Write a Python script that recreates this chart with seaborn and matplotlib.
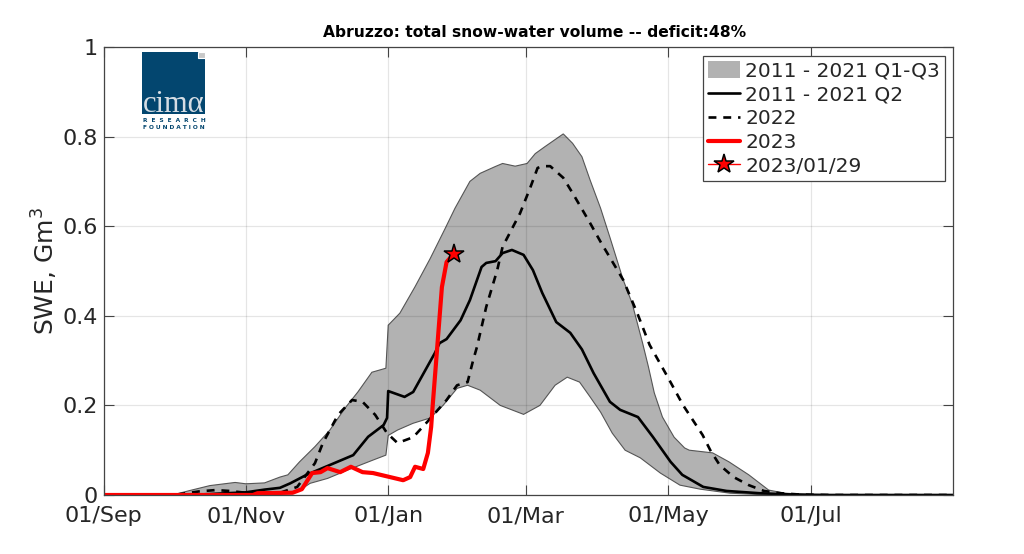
import matplotlib
matplotlib.use("Agg")
import matplotlib.pyplot as plt
from matplotlib.patches import Patch, Rectangle
from matplotlib.lines import Line2D
import seaborn as sns

# days since 01/Sep, SWE in Gm3
q3_days = [0, 30, 31, 37, 45.6, 56.4, 61, 69, 75.6, 79, 84, 90.6, 97, 103.5, 109, 115, 121, 122, 127, 133.5,
           140, 146.4, 150.6, 157, 161.4, 167.8, 171, 176.4, 181.5, 185, 189, 197, 201, 205, 208.5, 213, 217,
           222.7, 226.5, 231, 233.5, 236, 239.5, 244.5, 249, 251, 261, 268, 276.5, 285, 292, 303, 311.5, 364]
q3_vals = [0, 0, 0.002, 0.01, 0.021, 0.028, 0.025, 0.027, 0.04, 0.045, 0.074, 0.108, 0.145, 0.194, 0.23, 0.274,
           0.283, 0.379, 0.406, 0.465, 0.528, 0.595, 0.64, 0.70, 0.718, 0.733, 0.74, 0.734, 0.74, 0.762, 0.777,
           0.806, 0.785, 0.755, 0.703, 0.64, 0.575, 0.48, 0.428, 0.339, 0.286, 0.228, 0.174, 0.129, 0.105, 0.10,
           0.094, 0.074, 0.045, 0.011, 0.004, 0.001, 0, 0]

q1_days = [0, 35, 41, 61, 83, 88.5, 96, 105.7, 115.5, 121, 122, 126, 132.6, 140, 145.5, 151.5, 156, 161.4, 170,
           180, 187, 193.5, 198.7, 204, 208.5, 213, 218, 223.5, 230, 238.6, 247, 255.7, 268.5, 281, 298.5, 364]
q1_vals = [0, 0, 0.002, 0.006, 0.007, 0.026, 0.037, 0.058, 0.078, 0.089, 0.133, 0.145, 0.16, 0.172, 0.2, 0.238,
           0.245, 0.234, 0.20, 0.18, 0.20, 0.245, 0.263, 0.252, 0.219, 0.185, 0.138, 0.10, 0.083, 0.049, 0.022,
           0.013, 0.004, 0.001, 0, 0]

q2_days = [0, 30, 41, 61, 69, 75.6, 80, 87, 97, 107, 113.4, 120, 121.5, 122, 129, 132.7, 142, 144, 147, 153, 157,
           162, 164, 168, 171, 175, 180, 184, 188, 194, 200, 205, 210, 217, 221.4, 229, 235.5, 243, 248, 257,
           267, 281, 295.5, 311, 364]
q2_vals = [0, 0, 0.001, 0.006, 0.012, 0.016, 0.026, 0.045, 0.067, 0.089, 0.13, 0.156, 0.172, 0.232, 0.219, 0.23,
           0.317, 0.339, 0.348, 0.39, 0.435, 0.509, 0.518, 0.522, 0.54, 0.547, 0.536, 0.502, 0.451, 0.386, 0.362,
           0.325, 0.272, 0.208, 0.19, 0.174, 0.129, 0.074, 0.045, 0.018, 0.009, 0.004, 0.001, 0, 0]

days_2022 = [0, 30, 41, 48, 54, 61, 75.6, 83, 90.6, 94, 100.5, 106.5, 111, 116.4, 121.5, 126, 132.7, 138.7, 147,
             151.5, 156, 158.4, 160, 164, 168.7, 171, 178.5, 183, 186, 188, 191.4, 197, 201, 208.5, 213, 222.7,
             228.7, 234, 242, 248.4, 256.7, 260, 264, 270, 276.5, 283, 290, 298.5, 311, 364]
vals_2022 = [0, 0, 0.008, 0.011, 0.009, 0.005, 0.005, 0.018, 0.071, 0.116, 0.179, 0.212, 0.208, 0.179, 0.138,
             0.116, 0.129, 0.163, 0.212, 0.245, 0.252, 0.301, 0.33, 0.42, 0.502, 0.554, 0.629, 0.688, 0.73,
             0.734, 0.734, 0.708, 0.674, 0.607, 0.565, 0.48, 0.406, 0.335, 0.261, 0.20, 0.134, 0.10, 0.067, 0.04,
             0.022, 0.009, 0.004, 0.001, 0, 0]

days_2023 = [0, 64, 66, 81, 85, 89.4, 93, 96, 101.4, 106, 111, 115.5, 128.4, 131.4, 133.5, 137, 139, 140.4, 141,
             143, 145, 147, 150]
vals_2023 = [0, 0, 0.004, 0.005, 0.013, 0.049, 0.051, 0.06, 0.051, 0.063, 0.051, 0.049, 0.033, 0.04, 0.063, 0.058,
             0.094, 0.152, 0.196, 0.33, 0.464, 0.52, 0.538]

star_day = [150]
star_val = [0.538]

x_ticks = [0, 61, 122, 181, 242, 303]
x_labels = ["01/Sep", "01/Nov", "01/Jan", "01/Mar", "01/May", "01/Jul"]
y_ticks = [0, 0.2, 0.4, 0.6, 0.8, 1]
y_labels = ["0", "0.2", "0.4", "0.6", "0.8", "1"]

sns.set_theme(style="white", rc={"lines.dashed_pattern": (3, 2.6)})
plt.rcParams["font.family"] = ["DejaVu Sans"]

fig = plt.figure(figsize=(10.24, 5.54), dpi=100)
ax = fig.add_axes([103.5 / 1024, 59 / 554, 849.5 / 1024, 448 / 554])

ax.fill(q3_days + q1_days[::-1], q3_vals + q1_vals[::-1], facecolor="#b2b2b2", edgecolor="#555555",
        linewidth=0.8, zorder=2)
sns.lineplot(x=q2_days, y=q2_vals, color="black", lw=1.9, estimator=None, sort=False, ax=ax, zorder=3)
sns.lineplot(x=days_2022, y=vals_2022, color="black", lw=1.9, linestyle="--", estimator=None, sort=False, ax=ax, zorder=3)
sns.lineplot(x=days_2023, y=vals_2023, color="red", lw=3, estimator=None, sort=False, ax=ax, zorder=4)
ax.plot(star_day, star_val, marker="*", ms=14.5, mfc="red", mec="black", mew=1.1, ls="none", zorder=5)

ax.set_xlim(0, 364)
ax.set_ylim(0, 1)
ax.set_xticks(x_ticks)
ax.set_xticklabels(x_labels)
ax.set_yticks(y_ticks)
ax.set_yticklabels(y_labels)
ax.set_xlabel("")
ax.set_ylabel("SWE, Gm$^3$", fontsize=18, color="#262626", labelpad=2)
ax.set_title("Abruzzo: total snow-water volume -- deficit:48%", fontsize=11.2, fontweight="bold",
             color="black", pad=7, x=0.508)
ax.tick_params(axis="both", direction="in", length=7, width=0.8, color="#444444", labelsize=16,
               labelcolor="#262626", bottom=True, left=True, top=True, right=True)
ax.tick_params(axis="x", pad=8)
ax.tick_params(axis="y", pad=4)
ax.grid(True, color="black", alpha=0.1, linewidth=0.9, zorder=6)
ax.set_axisbelow(False)
for spine in ax.spines.values():
    spine.set_color("#444444")
    spine.set_linewidth(0.9)
    spine.set_zorder(7)

handles = [
    Patch(facecolor="#b2b2b2", edgecolor="none"),
    Line2D([], [], color="black", lw=1.9),
    Line2D([], [], color="black", lw=1.9, linestyle="--"),
    Line2D([], [], color="red", lw=3),
    Line2D([], [], color="red", lw=1, marker="*", ms=14.5, mfc="red", mec="black", mew=1.1),
]
labels = ["2011 - 2021 Q1-Q3", "2011 - 2021 Q2", "2022", "2023", "2023/01/29"]
leg = ax.legend(handles, labels, loc="upper right", bbox_to_anchor=(841.5 / 849.5, 1 - 9 / 448),
                borderaxespad=0, fontsize=14.5, frameon=True, fancybox=False, framealpha=1, edgecolor="#444444",
                handlelength=1.6, handleheight=0.93, handletextpad=0.25, labelspacing=0.22, borderpad=0.25)
leg.get_frame().set_linewidth(0.9)
leg.set_zorder(10)

# logo
blue = "#03466f"
fig.add_artist(Rectangle((142 / 1024, 1 - 114 / 554), 63 / 1024, 62 / 554, transform=fig.transFigure,
                         facecolor=blue, edgecolor="none", zorder=11))
fig.add_artist(Rectangle((198 / 1024, 1 - 58 / 554), 7 / 1024, 6 / 554, transform=fig.transFigure,
                         facecolor="#c8c8c8", edgecolor="white", linewidth=0.8, zorder=12))
fig.text(173.5 / 1024, 1 - 112 / 554, "cim\u03b1", family="Liberation Serif", fontsize=22, color="#d5dde4",
         ha="center", va="baseline", zorder=13)
fig.text(174 / 1024, 1 - 122 / 554, "R  E  S  E  A  R  C  H", fontsize=4.2, fontweight="bold", color=blue,
         ha="center", va="baseline", zorder=13)
fig.text(174 / 1024, 1 - 129 / 554, "F O U N D A T I O N", fontsize=4.2, fontweight="bold", color=blue,
         ha="center", va="baseline", zorder=13)

fig.savefig("out.png", dpi=100)
plt.close(fig)
